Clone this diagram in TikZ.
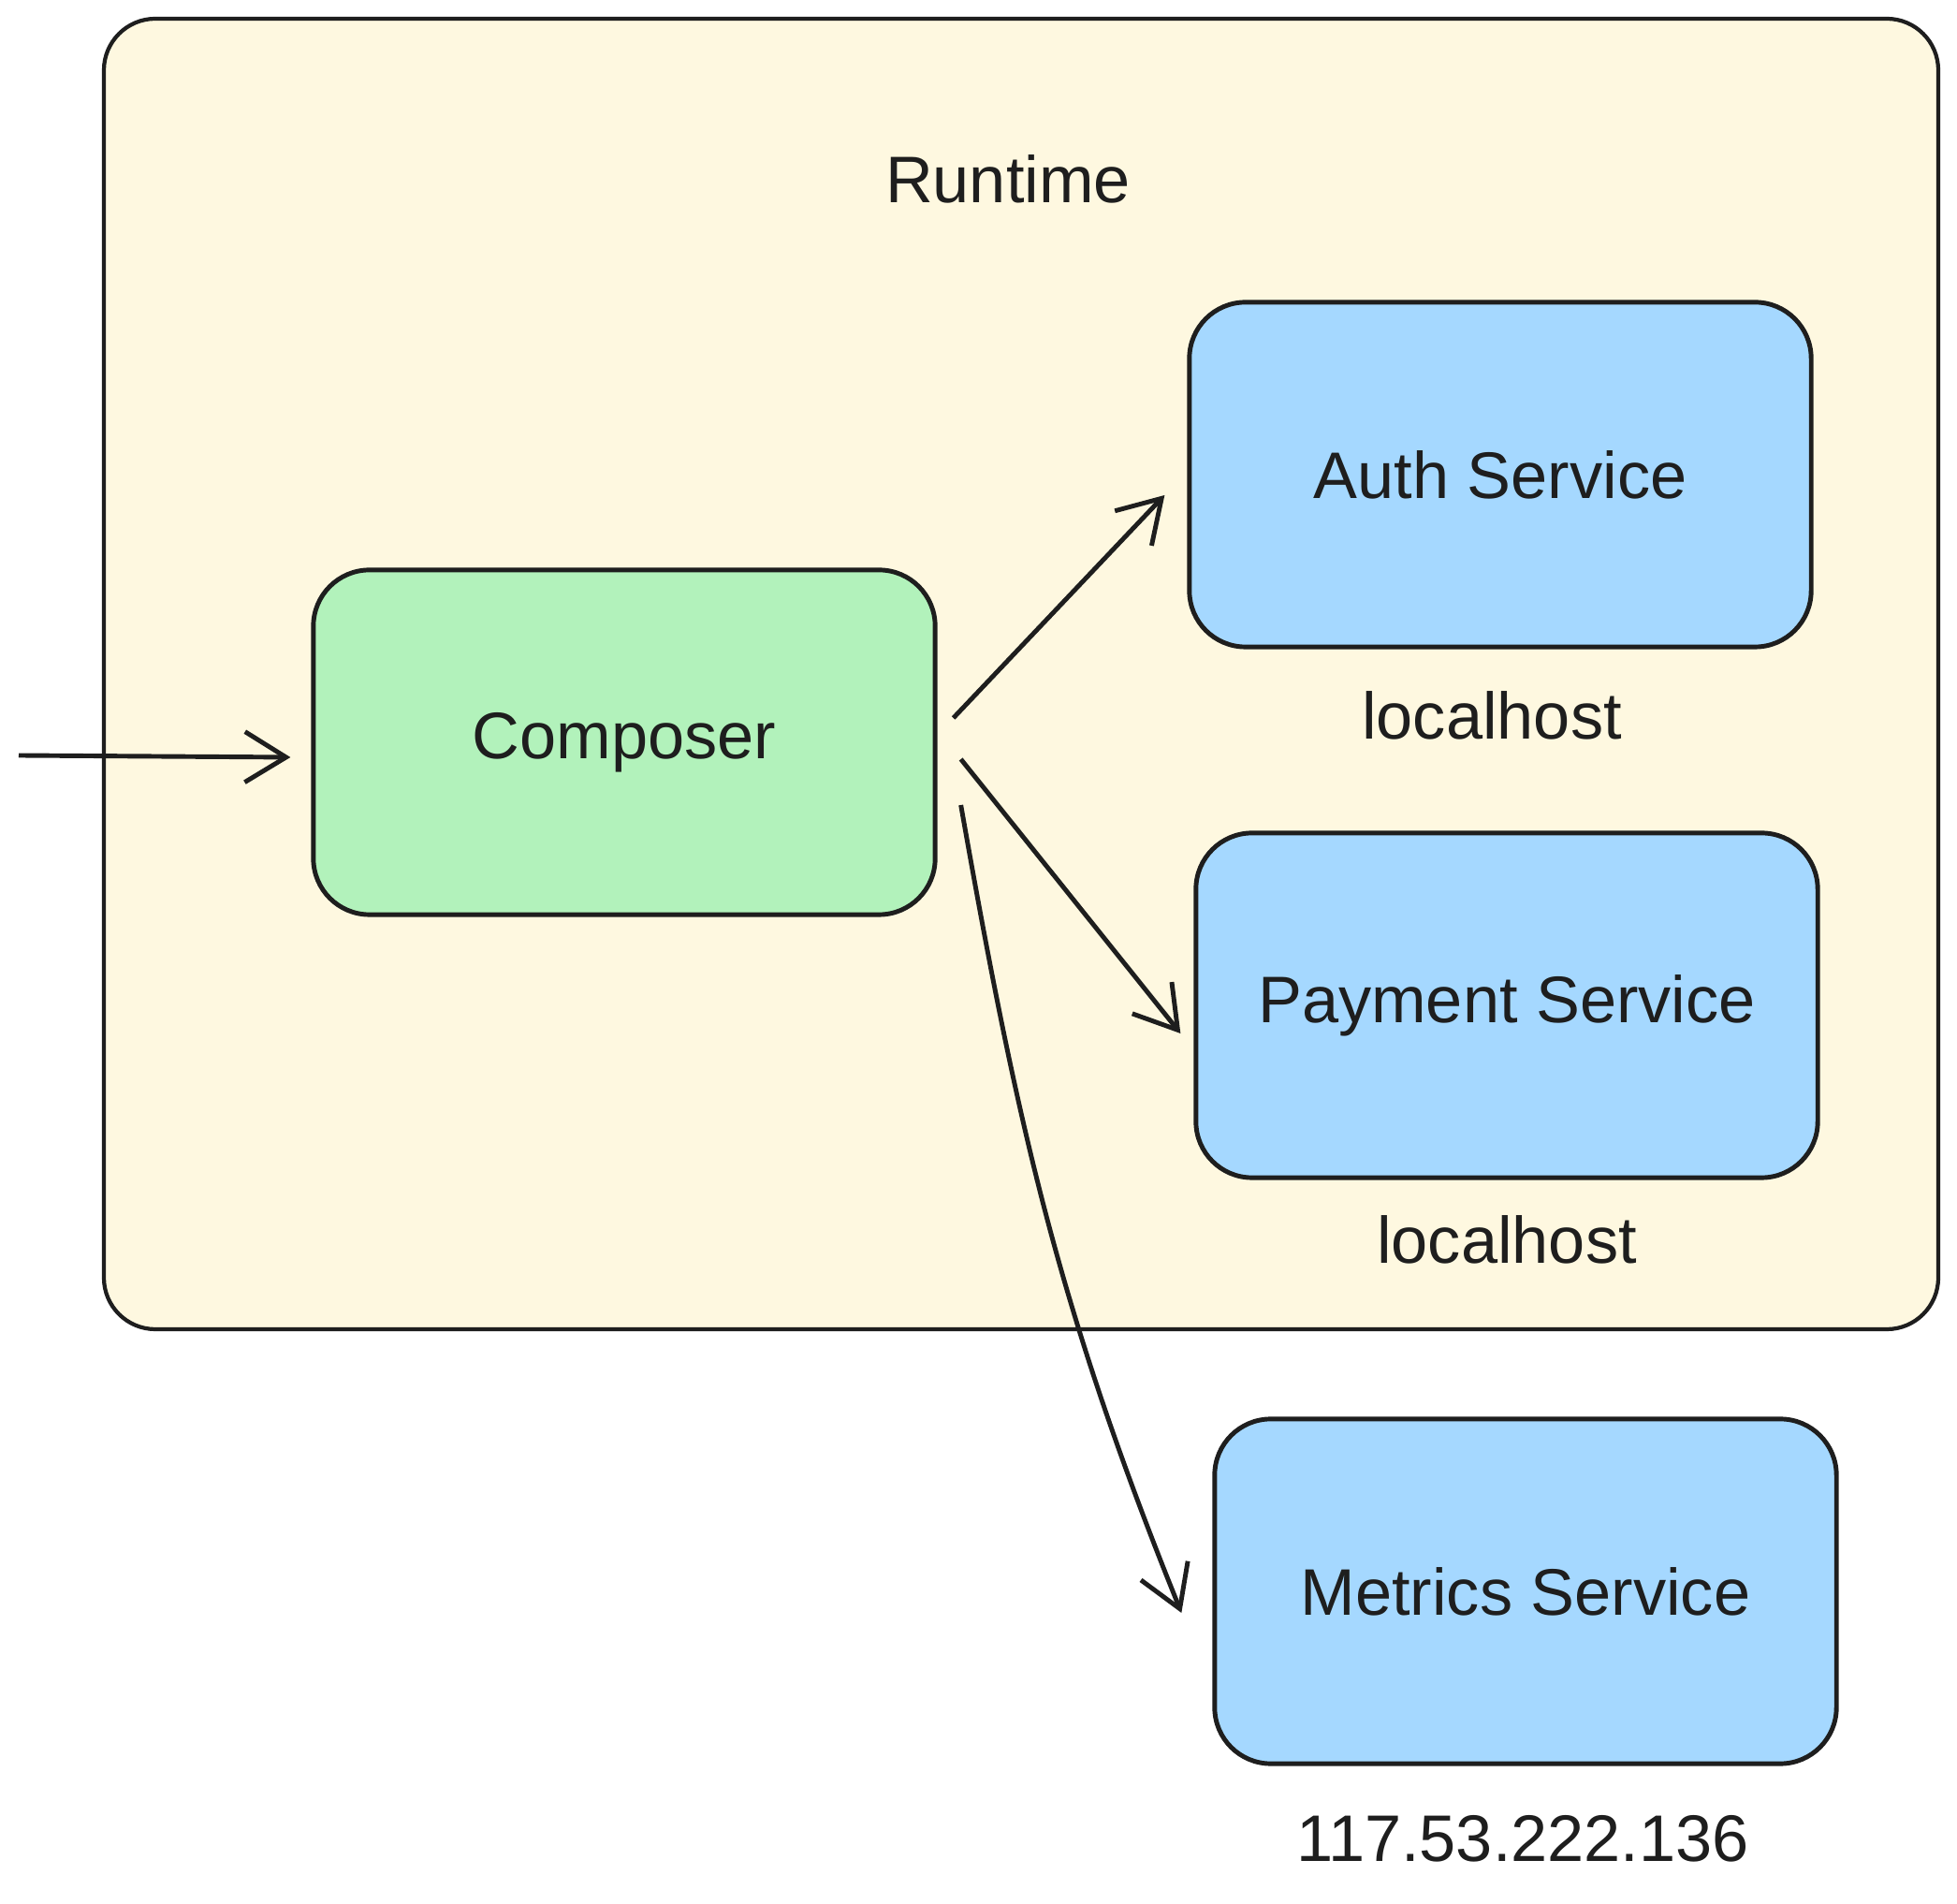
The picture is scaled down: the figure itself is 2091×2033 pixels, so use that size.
\documentclass[tikz,border=0pt]{standalone}
\usepackage{fontspec}
\setmainfont{Liberation Sans}
\usetikzlibrary{arrows.meta}
\definecolor{runtimebg}{HTML}{FEF8E0}
\definecolor{composerbg}{HTML}{B2F2BB}
\definecolor{servicebg}{HTML}{A5D8FF}
\definecolor{ink}{HTML}{1E1E1E}

\begin{document}
\begin{tikzpicture}[x=0.01cm, y=0.01cm, >={Straight Barb[length=4.4mm,width=5.4mm]},
  box/.style={draw=ink, line width=1.4pt, rounded corners=6mm, minimum width=6.64cm, minimum height=3.68cm, inner sep=0pt, text=ink, font=\fontsize{20}{24}\selectfont},
  lbl/.style={text=ink, inner sep=0pt, font=\fontsize{20}{24}\selectfont},
  link/.style={->, draw=ink, line width=1.4pt}]
\useasboundingbox (0,0) rectangle (2091,2033);

% runtime container
\draw [draw=ink, fill=runtimebg, line width=1.2pt, rounded corners=5.5mm] (111,613) rectangle (2071,2013);
\node [lbl] (runtime) at (1077,1842) {Runtime};

\node [box, fill=composerbg] (composer) at (667,1240) {Composer};
\node [box, fill=servicebg] (auth) at (1603,1526) {Auth Service};
\node [box, fill=servicebg] (payment) at (1610,959) {Payment Service};
\node [box, fill=servicebg] (metrics) at (1630,333) {Metrics Service};

\node [lbl] (authhost) at (1594,1269) {localhost};
\node [lbl] (payhost) at (1610,709) {localhost};
\node [lbl] (metricsip) at (1627,69) {117.53.222.136};

\coordinate (entry) at (20,1226);
\draw [link] (entry) -- ([shift={(-22,-16)}]composer.west);
\draw [link] ([shift={(17,26)}]composer.east) -- ([shift={(-24,-22)}]auth.west);
\draw [link] ([shift={(25,-18)}]composer.east) -- ([shift={(-14,-30)}]payment.west);
\draw [link] ([shift={(25,-67)}]composer.east) to [out=-80, in=112] ([shift={(-33,-23)}]metrics.west);
\end{tikzpicture}
\end{document}
